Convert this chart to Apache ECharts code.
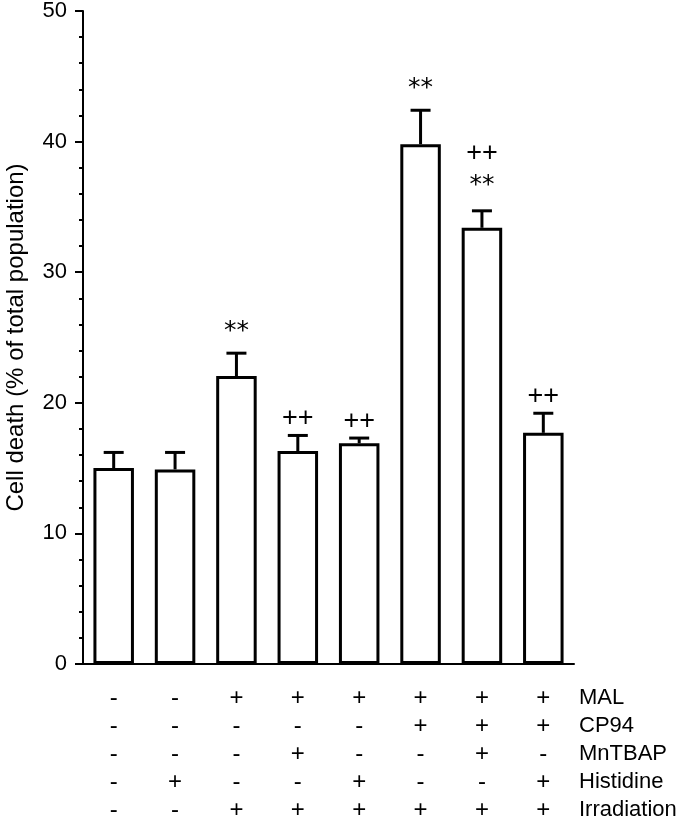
<!DOCTYPE html>
<html>
<head>
<meta charset="utf-8">
<script src="https://cdn.jsdelivr.net/npm/echarts@6/dist/echarts.min.js"></script>
<style>
html,body{margin:0;padding:0;background:#fff;}
#chart{width:683px;height:818px;}
</style>
</head>
<body>
<div id="chart"></div>
<script>
// ---- data ----
const categories = ['G1','G2','G3','G4','G5','G6','G7','G8'];
const cellDeath = [15.0, 14.9, 22.05, 16.3, 16.9, 39.8, 33.4, 17.7];
const sem = [1.2, 1.3, 1.75, 1.2, 0.4, 2.6, 1.3, 1.5];
const significance = ['', '', '**', '++', '++', '**', '++\n**', '++'];
const rowNames = ['MAL', 'CP94', 'MnTBAP', 'Histidine', 'Irradiation'];
const MAL         = ['-','-','+','+','+','+','+','+'];
const CP94        = ['-','-','-','-','-','+','+','+'];
const MnTBAP      = ['-','-','-','+','-','-','+','-'];
const Histidine   = ['-','+','-','-','+','-','-','+'];
const Irradiation = ['-','-','+','+','+','+','+','+'];
const yTicks = [0, 10, 20, 30, 40, 50];

const rows = [MAL, CP94, MnTBAP, Histidine, Irradiation];
const FONT = '"Liberation Sans", Arial, sans-serif';

const errData = categories.map((c, i) => [i, cellDeath[i], cellDeath[i] + sem[i]]);

const chart = echarts.init(document.getElementById('chart'));
chart.setOption({
  animation: false,
  backgroundColor: '#fff',
  grid: { left: 83, right: 109, top: 11, bottom: 154, containLabel: false, outerBoundsMode: 'none' },
  xAxis: {
    type: 'category',
    data: categories,
    axisLine: { lineStyle: { color: '#000', width: 2 } },
    axisTick: { show: false },
    axisLabel: {
      margin: 20,
      color: '#000',
      fontFamily: FONT,
      fontSize: 24,
      lineHeight: 28,
      interval: 0,
      formatter: (v, i) => rows.map(r => r[i]).join('\n')
    }
  },
  yAxis: {
    type: 'value',
    min: yTicks[0], max: yTicks[yTicks.length - 1], interval: 10,
    name: 'Cell death (% of total population)',
    nameLocation: 'middle',
    nameGap: 55,
    nameTextStyle: { color: '#000', fontFamily: FONT, fontSize: 24 },
    axisLine: { show: true, lineStyle: { color: '#000', width: 2 } },
    axisTick: { show: true, length: 8, lineStyle: { color: '#000', width: 2 } },
    minorTick: { show: true, splitNumber: 5, length: 4, lineStyle: { color: '#000', width: 2 } },
    splitLine: { show: false },
    axisLabel: { color: '#000', fontFamily: FONT, fontSize: 22, margin: 16 }
  },
  graphic: [{
    type: 'text',
    left: 579,
    top: 684,
    style: {
      text: rowNames.join('\n'),
      font: '22px ' + FONT,
      lineHeight: 28,
      fill: '#000'
    }
  }],
  series: [
    {
      type: 'bar',
      data: cellDeath,
      barWidth: '66%',
      itemStyle: { color: '#fff', borderColor: '#000', borderWidth: 3 },
      z: 2
    },
    {
      type: 'custom',
      data: errData,
      z: 3,
      renderItem: (params, api) => {
        const i = api.value(0);
        const base = api.coord([i, api.value(1)]);
        const top = api.coord([i, api.value(2)]);
        const children = [
          { type: 'line', shape: { x1: base[0], y1: base[1], x2: top[0], y2: top[1] }, style: { stroke: '#000', lineWidth: 3 } },
          { type: 'line', shape: { x1: top[0] - 10, y1: top[1], x2: top[0] + 10, y2: top[1] }, style: { stroke: '#000', lineWidth: 3 } }
        ];
        const lines = significance[i] ? significance[i].split('\n').reverse() : [];
        lines.forEach((t, k) => {
          const star = t.indexOf('*') >= 0;
          // visual centre of the symbol above the cap
          let visual;
          if (lines.length > 1) visual = k === 0 ? 31 : 57;
          else visual = star ? 28 : 17;
          children.push({
            type: 'text',
            style: {
              text: t,
              x: top[0], y: top[1] - visual + (star ? 6 : 0),
              align: 'center', verticalAlign: 'middle',
              font: star ? '25px "DejaVu Sans", sans-serif' : '27px ' + FONT,
              fill: '#000'
            }
          });
        });
        return { type: 'group', children };
      }
    }
  ]
});
</script>
</body>
</html>
